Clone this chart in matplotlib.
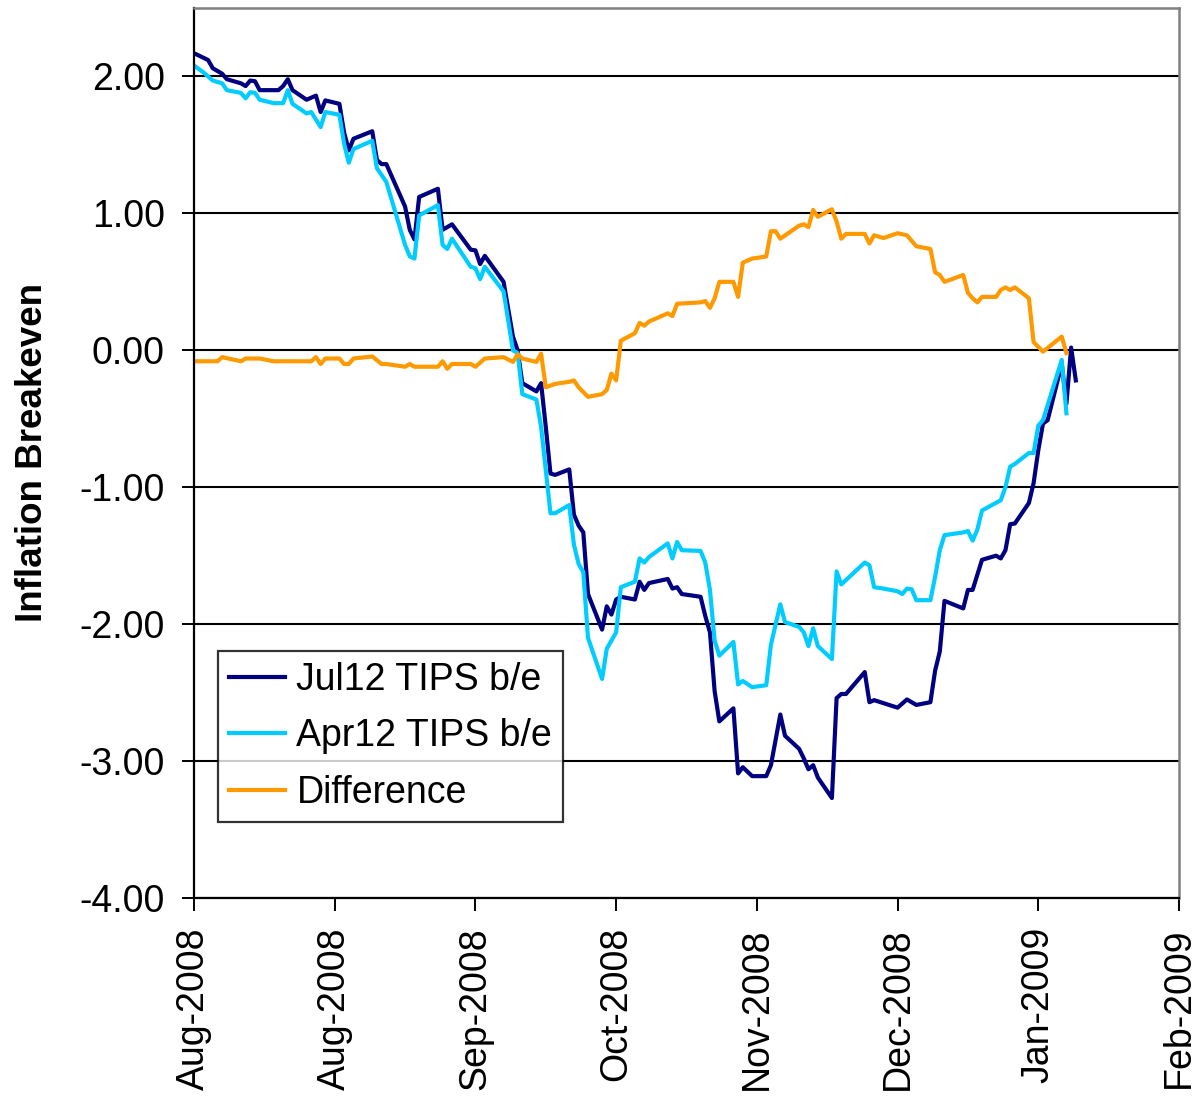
import pandas as pd
import matplotlib
matplotlib.use('Agg')
import matplotlib.pyplot as plt
import matplotlib.dates as mdates

# Jul12 TIPS breakeven
jul_dates = [
    '2008-08-01', '2008-08-04', '2008-08-05', '2008-08-07', '2008-08-08', '2008-08-11',
    '2008-08-12', '2008-08-13', '2008-08-14', '2008-08-15', '2008-08-19', '2008-08-20',
    '2008-08-21', '2008-08-22', '2008-08-25', '2008-08-27', '2008-08-28', '2008-08-29',
    '2008-09-01', '2008-09-02', '2008-09-03', '2008-09-04', '2008-09-08', '2008-09-09',
    '2008-09-10', '2008-09-11', '2008-09-15', '2008-09-16', '2008-09-17', '2008-09-18',
    '2008-09-22', '2008-09-23', '2008-09-25', '2008-09-29', '2008-09-30',
    '2008-10-01', '2008-10-02', '2008-10-06', '2008-10-08', '2008-10-09', '2008-10-10',
    '2008-10-13', '2008-10-14', '2008-10-15', '2008-10-16', '2008-10-17', '2008-10-20',
    '2008-10-21', '2008-10-22', '2008-10-23', '2008-10-24', '2008-10-27', '2008-10-28',
    '2008-10-29', '2008-10-30', '2008-10-31',
    '2008-11-03', '2008-11-04', '2008-11-05', '2008-11-06', '2008-11-10', '2008-11-11',
    '2008-11-12', '2008-11-13', '2008-11-17', '2008-11-18', '2008-11-19', '2008-11-20',
    '2008-11-21', '2008-11-24', '2008-11-25', '2008-11-26', '2008-11-28',
    '2008-12-01', '2008-12-02', '2008-12-04', '2008-12-05', '2008-12-08', '2008-12-09',
    '2008-12-10', '2008-12-11', '2008-12-12', '2008-12-15', '2008-12-16', '2008-12-17',
    '2008-12-18', '2008-12-22', '2008-12-23', '2008-12-24', '2008-12-29', '2008-12-31',
    '2009-01-02', '2009-01-05', '2009-01-06', '2009-01-07', '2009-01-08', '2009-01-12',
    '2009-01-13', '2009-01-14', '2009-01-16', '2009-01-19', '2009-01-20', '2009-01-21',
    '2009-01-22', '2009-01-23', '2009-01-26', '2009-01-27', '2009-01-28', '2009-01-29',
    '2009-01-30',
    '2009-02-02', '2009-02-03', '2009-02-04', '2009-02-05',
]
jul_values = [
    2.17, 2.12, 2.06, 2.02, 1.98, 1.95, 1.93, 1.97, 1.965, 1.90, 1.90, 1.93,
    1.98, 1.90, 1.83, 1.86, 1.74, 1.825,
    1.80, 1.59, 1.46, 1.545, 1.60, 1.39, 1.36, 1.36, 1.05, 0.88, 0.81, 1.12,
    1.18, 0.88, 0.92, 0.735, 0.73,
    0.63, 0.69, 0.50, 0.10, 0.0, -0.24, -0.30, -0.24, -0.56, -0.90, -0.91, -0.87,
    -1.20, -1.28, -1.33, -1.78, -2.04, -1.87, -1.93, -1.82, -1.80,
    -1.82, -1.69, -1.75, -1.70, -1.67, -1.74, -1.73, -1.78, -1.80, -1.94, -2.06, -2.49,
    -2.71, -2.615, -3.09, -3.045, -3.11,
    -3.11, -3.03, -2.66, -2.815, -2.91, -2.98, -3.06, -3.03, -3.12, -3.27, -2.54, -2.51,
    -2.51, -2.35, -2.57, -2.555, -2.61, -2.55,
    -2.59, -2.57, -2.34, -2.20, -1.83, -1.885, -1.75, -1.75, -1.53, -1.50, -1.52, -1.46,
    -1.27, -1.265, -1.115, -0.97, -0.73, -0.535, -0.51,
    -0.10, -0.39, 0.02, -0.22,
]

# Apr12 TIPS breakeven
apr_dates = [
    '2008-08-01', '2008-08-03', '2008-08-05', '2008-08-07', '2008-08-08', '2008-08-11',
    '2008-08-12', '2008-08-13', '2008-08-14', '2008-08-15', '2008-08-18', '2008-08-20',
    '2008-08-21', '2008-08-22', '2008-08-25', '2008-08-26', '2008-08-28', '2008-08-29',
    '2008-09-01', '2008-09-02', '2008-09-03', '2008-09-04', '2008-09-08', '2008-09-09',
    '2008-09-11', '2008-09-15', '2008-09-16', '2008-09-17', '2008-09-18', '2008-09-22',
    '2008-09-23', '2008-09-24', '2008-09-25', '2008-09-29', '2008-09-30',
    '2008-10-01', '2008-10-02', '2008-10-06', '2008-10-08', '2008-10-09', '2008-10-10',
    '2008-10-13', '2008-10-14', '2008-10-16', '2008-10-17', '2008-10-20', '2008-10-21',
    '2008-10-22', '2008-10-23', '2008-10-24', '2008-10-27', '2008-10-28', '2008-10-30',
    '2008-10-31',
    '2008-11-03', '2008-11-04', '2008-11-05', '2008-11-06', '2008-11-10', '2008-11-11',
    '2008-11-12', '2008-11-13', '2008-11-17', '2008-11-18', '2008-11-19', '2008-11-20',
    '2008-11-21', '2008-11-24', '2008-11-25', '2008-11-26', '2008-11-28',
    '2008-12-01', '2008-12-02', '2008-12-04', '2008-12-05', '2008-12-08', '2008-12-09',
    '2008-12-10', '2008-12-11', '2008-12-12', '2008-12-15', '2008-12-16', '2008-12-17',
    '2008-12-22', '2008-12-23', '2008-12-24', '2008-12-26', '2008-12-29', '2008-12-30',
    '2008-12-31',
    '2009-01-01', '2009-01-02', '2009-01-05', '2009-01-06', '2009-01-07', '2009-01-08',
    '2009-01-12', '2009-01-13', '2009-01-14', '2009-01-15', '2009-01-16', '2009-01-20',
    '2009-01-21', '2009-01-22', '2009-01-23', '2009-01-26', '2009-01-27', '2009-01-28',
    '2009-01-29',
    '2009-02-02', '2009-02-03',
]
apr_values = [
    2.08, 2.03, 1.97, 1.95, 1.90, 1.88, 1.84, 1.885, 1.88, 1.83, 1.805, 1.805,
    1.90, 1.80, 1.73, 1.74, 1.63, 1.74,
    1.72, 1.51, 1.37, 1.47, 1.53, 1.33, 1.23, 0.77, 0.686, 0.67, 0.985, 1.06,
    0.77, 0.74, 0.815, 0.61, 0.60,
    0.52, 0.61, 0.43, 0.0, -0.02, -0.32, -0.36, -0.56, -1.19, -1.19, -1.13, -1.42,
    -1.56, -1.62, -2.10, -2.40, -2.18, -2.06, -1.73,
    -1.69, -1.52, -1.55, -1.51, -1.41, -1.52, -1.40, -1.46, -1.465, -1.55, -1.75, -2.12,
    -2.23, -2.13, -2.44, -2.415, -2.46,
    -2.446, -2.15, -1.855, -1.985, -2.02, -2.06, -2.16, -2.03, -2.16, -2.255, -1.615, -1.71,
    -1.55, -1.57, -1.73, -1.74, -1.76, -1.78, -1.74,
    -1.745, -1.825, -1.825, -1.655, -1.46, -1.35, -1.33, -1.32, -1.39, -1.31, -1.17, -1.095,
    -1.0, -0.85, -0.83, -0.75, -0.75, -0.55, -0.51,
    -0.07, -0.46,
]

# Difference (Apr12 less Jul12)
diff_dates = [
    '2008-08-01', '2008-08-06', '2008-08-07', '2008-08-11', '2008-08-12', '2008-08-15',
    '2008-08-18', '2008-08-26', '2008-08-27', '2008-08-28', '2008-08-29',
    '2008-09-01', '2008-09-02', '2008-09-03', '2008-09-04', '2008-09-08', '2008-09-10',
    '2008-09-11', '2008-09-15', '2008-09-16', '2008-09-17', '2008-09-22', '2008-09-23',
    '2008-09-24', '2008-09-25', '2008-09-29', '2008-09-30',
    '2008-10-02', '2008-10-06', '2008-10-08', '2008-10-09', '2008-10-10', '2008-10-13',
    '2008-10-14', '2008-10-15', '2008-10-17', '2008-10-20', '2008-10-21', '2008-10-22',
    '2008-10-24', '2008-10-27', '2008-10-28', '2008-10-29', '2008-10-30', '2008-10-31',
    '2008-11-03', '2008-11-04', '2008-11-05', '2008-11-06', '2008-11-10', '2008-11-11',
    '2008-11-12', '2008-11-17', '2008-11-18', '2008-11-19', '2008-11-20', '2008-11-21',
    '2008-11-24', '2008-11-25', '2008-11-26', '2008-11-28',
    '2008-12-01', '2008-12-02', '2008-12-03', '2008-12-04', '2008-12-08', '2008-12-09',
    '2008-12-10', '2008-12-11', '2008-12-12', '2008-12-15', '2008-12-16', '2008-12-17',
    '2008-12-18', '2008-12-22', '2008-12-23', '2008-12-24', '2008-12-26', '2008-12-29',
    '2008-12-31',
    '2009-01-02', '2009-01-05', '2009-01-06', '2009-01-07', '2009-01-08', '2009-01-12',
    '2009-01-13', '2009-01-14', '2009-01-15', '2009-01-16', '2009-01-19', '2009-01-20',
    '2009-01-21', '2009-01-22', '2009-01-23', '2009-01-26', '2009-01-27', '2009-01-29',
    '2009-02-02', '2009-02-03',
]
diff_values = [
    -0.08, -0.08, -0.05, -0.08, -0.06, -0.06, -0.08, -0.08, -0.05, -0.10, -0.06,
    -0.06, -0.10, -0.10, -0.06, -0.045, -0.10, -0.10, -0.12, -0.10, -0.12, -0.12, -0.08,
    -0.135, -0.10, -0.10, -0.12,
    -0.06, -0.05, -0.085, -0.03, -0.06, -0.085, -0.025, -0.27, -0.245, -0.23, -0.22, -0.27,
    -0.34, -0.32, -0.29, -0.17, -0.22, 0.07,
    0.125, 0.20, 0.18, 0.21, 0.27, 0.25, 0.34, 0.35, 0.36, 0.31, 0.38, 0.50,
    0.50, 0.39, 0.64, 0.67,
    0.685, 0.87, 0.87, 0.815, 0.91, 0.92, 0.90, 1.025, 0.975, 1.03, 0.94, 0.815,
    0.85, 0.85, 0.78, 0.84, 0.82, 0.855, 0.84,
    0.76, 0.74, 0.57, 0.55, 0.50, 0.55, 0.42, 0.38, 0.35, 0.39, 0.39, 0.44,
    0.46, 0.44, 0.46, 0.38, 0.06, -0.01,
    0.10, -0.02,
]

series_labels = ['Jul12 TIPS b/e', 'Apr12 TIPS b/e', 'Difference']
series_colors = ['#000080', '#00CCFF', '#FF9900']

plt.rcParams['font.family'] = ['Liberation Sans', 'DejaVu Sans']

fig = plt.figure(figsize=(11.95, 10.96), dpi=100)
ax = fig.add_axes([194 / 1195, 1 - 898 / 1096, 985 / 1195, 890 / 1096])

ax.plot(pd.to_datetime(jul_dates), jul_values, color=series_colors[0], lw=3, label=series_labels[0])
ax.plot(pd.to_datetime(apr_dates), apr_values, color=series_colors[1], lw=3, label=series_labels[1])
ax.plot(pd.to_datetime(diff_dates), diff_values, color=series_colors[2], lw=3, label=series_labels[2])

# date axis: 30-day steps from 1 Aug 2008
start = pd.Timestamp('2008-08-01')
ticks = [start + pd.Timedelta(days=30 * i) for i in range(8)]
ax.set_xlim(start, start + pd.Timedelta(days=210))
ax.set_xticks(ticks)
ax.xaxis.set_major_formatter(mdates.DateFormatter('%b-%Y'))
plt.setp(ax.get_xticklabels(), rotation=90, ha='center', va='top')

ax.set_ylim(-4, 2.5)
ax.set_yticks([-4, -3, -2, -1, 0, 1, 2])
ax.set_yticklabels(['%.2f' % v for v in [-4, -3, -2, -1, 0, 1, 2]])
ax.yaxis.grid(True, color='black', lw=1.5)
ax.set_axisbelow(True)

ax.tick_params(axis='both', direction='out', length=9, width=1.4, labelsize=27, color='black')
ax.tick_params(axis='y', pad=12)
ax.tick_params(axis='x', pad=12)

for side in ['left', 'bottom']:
    ax.spines[side].set_color('black')
    ax.spines[side].set_linewidth(1.6)
for side in ['top', 'right']:
    ax.spines[side].set_color('#808080')
    ax.spines[side].set_linewidth(1.8)

fig.text(33 / 1195, 1 - 453 / 1096, 'Inflation Breakeven', rotation=90,
         ha='center', va='center', fontsize=26.5, fontweight='bold')

leg = ax.legend(loc='lower left', bbox_to_anchor=(0.024, 0.085), borderaxespad=0,
                fontsize=27, frameon=True, fancybox=False, edgecolor='black',
                handlelength=1.5, handletextpad=0.3, labelspacing=0.55, borderpad=0.3)
leg.get_frame().set_linewidth(1.6)
for line in leg.get_lines():
    line.set_linewidth(3)

fig.savefig('out.png', dpi=100)
